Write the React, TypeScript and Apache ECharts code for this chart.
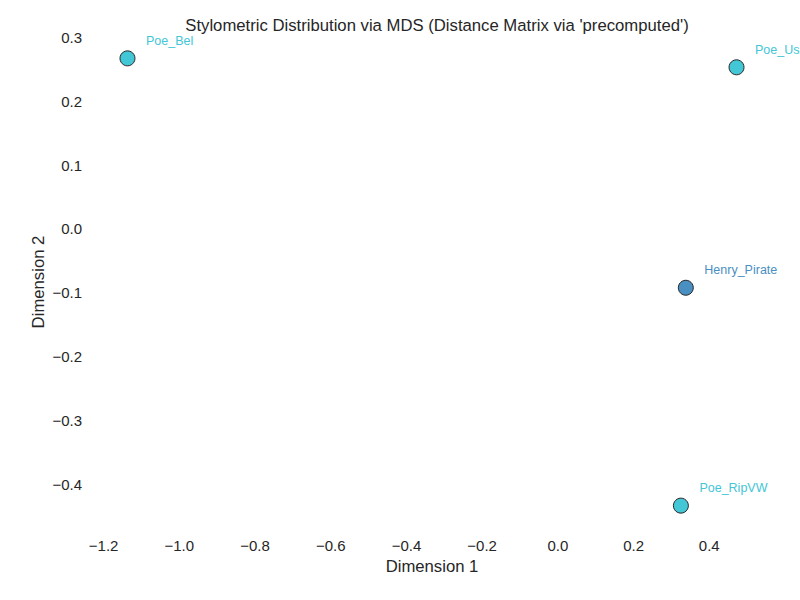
import * as echarts from "echarts";
import { useEffect, useRef } from "react";

const names = ["Poe_Bel", "Poe_Us", "Henry_Pirate", "Poe_RipVW"];
const dim1 = [-1.137, 0.472, 0.338, 0.325];
const dim2 = [0.267, 0.253, -0.092, -0.433];
const colors = ["#43c6d6", "#43c6d6", "#4a8fc2", "#43c6d6"];
const xTicks = [-1.2, -1.0, -0.8, -0.6, -0.4, -0.2, 0.0, 0.2, 0.4];
const yTicks = [-0.4, -0.3, -0.2, -0.1, 0.0, 0.1, 0.2, 0.3];

const font = "'Liberation Sans', Arial, sans-serif";
const fmt = (v: number) => (v < 0 ? "\u2212" : "") + Math.abs(v).toFixed(1);

export default function App() {
  const ref = useRef<HTMLDivElement | null>(null);

  useEffect(() => {
    if (!ref.current) return;
    const chart = echarts.init(ref.current, null, { renderer: "svg" });

    const data = names.map((n, i) => ({
      name: n,
      value: [dim1[i], dim2[i]],
      itemStyle: { color: colors[i] },
      label: { color: colors[i] },
    }));

    chart.setOption({
      animation: false,
      backgroundColor: "#ffffff",
      title: {
        text: "Stylometric Distribution via MDS (Distance Matrix via 'precomputed')",
        left: 432,
        textAlign: "center",
        top: 12,
        textStyle: { fontFamily: font, fontSize: 16.7, fontWeight: "normal", color: "#262626" },
      },
      grid: { left: 97, right: 33, top: 36, bottom: 72 },
      xAxis: {
        type: "value",
        min: -1.2175,
        max: 0.5525,
        name: "Dimension 1",
        nameLocation: "middle",
        nameGap: 30,
        nameMoveOverlap: false,
        nameTextStyle: { fontFamily: font, fontSize: 16.7, color: "#262626" },
        axisLine: { show: false },
        axisTick: { show: false },
        splitLine: { show: false },
        axisLabel: {
          customValues: xTicks,
          formatter: fmt,
          fontFamily: font,
          fontSize: 15,
          color: "#262626",
          margin: 10,
        },
      },
      yAxis: {
        type: "value",
        min: -0.468,
        max: 0.302,
        name: "Dimension 2",
        nameLocation: "middle",
        nameGap: 50,
        nameMoveOverlap: false,
        nameTextStyle: { fontFamily: font, fontSize: 16.7, color: "#262626" },
        axisLine: { show: false },
        axisTick: { show: false },
        splitLine: { show: false },
        axisLabel: {
          customValues: yTicks,
          formatter: fmt,
          fontFamily: font,
          fontSize: 15,
          color: "#262626",
          margin: 15,
        },
      },
      series: [
        {
          type: "scatter",
          symbolSize: 15,
          data,
          itemStyle: { borderColor: "#262626", borderWidth: 1, opacity: 1 },
          label: {
            show: true,
            formatter: "{b}",
            position: "right",
            distance: 0,
            offset: [10.5, -17.5],
            fontFamily: font,
            fontSize: 12.5,
          },
        },
      ],
    });

    return () => chart.dispose();
  }, []);

  return (
    <div
      ref={ref}
      style={{ position: "absolute", left: 0, top: 0, width: 800, height: 600 }}
    />
  );
}
